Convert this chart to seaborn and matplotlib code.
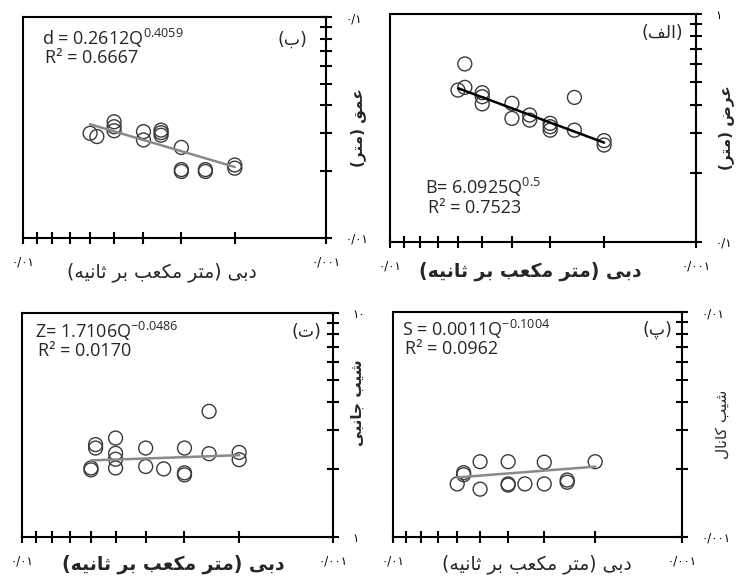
import seaborn as sns
import matplotlib.pyplot as plt
from matplotlib.ticker import NullFormatter

# ================================
# Datos
# ================================
# عرض (الف)
q_width = [0.0057, 0.006, 0.0057, 0.005, 0.005, 0.005, 0.004, 0.004, 0.0035,
           0.0035, 0.003, 0.003, 0.003, 0.0025, 0.0025, 0.002, 0.002]
width = [0.603, 0.463, 0.476, 0.451, 0.433, 0.403, 0.405, 0.348, 0.360,
         0.342, 0.331, 0.320, 0.309, 0.430, 0.309, 0.278, 0.266]

# عمق (ب)
q_depth = [0.006, 0.0057, 0.005, 0.005, 0.005, 0.004, 0.004, 0.0035, 0.0035,
           0.0035, 0.003, 0.003, 0.003, 0.0025, 0.0025, 0.002, 0.002]
depth = [0.0298, 0.0288, 0.0336, 0.0319, 0.0306, 0.0303, 0.0278, 0.0308, 0.0300,
         0.0292, 0.0257, 0.0204, 0.0200, 0.0204, 0.0200, 0.0214, 0.0207]

# شیب کانال (پ)
q_slope = [0.006, 0.0057, 0.0057, 0.005, 0.005, 0.004, 0.004, 0.004, 0.0035,
           0.003, 0.003, 0.0025, 0.0025, 0.002]
slope = [0.00172, 0.00193, 0.00189, 0.00216, 0.00163, 0.00216, 0.00172, 0.00170,
         0.00172, 0.00215, 0.00172, 0.00179, 0.00175, 0.00216]

# شیب جانبی (ت)
q_side = [0.006, 0.006, 0.0058, 0.0058, 0.005, 0.005, 0.005, 0.005, 0.004,
          0.004, 0.0035, 0.003, 0.003, 0.003, 0.0025, 0.0025, 0.002, 0.002]
side = [1.99, 2.03, 2.58, 2.49, 2.76, 2.36, 2.22, 2.03, 2.49,
        2.06, 2.01, 2.49, 1.93, 1.89, 3.63, 2.35, 2.38, 2.21]

# coeficientes de las ecuaciones  y = a * Q^b
fit_a = {"width": 6.0925, "depth": 0.2612, "slope": 0.0011, "side": 1.7106}
fit_b = {"width": 0.5, "depth": 0.4059, "slope": -0.1004, "side": -0.0486}
fit_q = [0.006, 0.002]


# ================================
# Texto persa (formas de presentacion + orden visual)
# ================================
FORMS = {
    "ا": ("\uFE8D", "\uFE8E", None, None),
    "ب": ("\uFE8F", "\uFE90", "\uFE91", "\uFE92"),
    "پ": ("\uFB56", "\uFB57", "\uFB58", "\uFB59"),
    "ت": ("\uFE95", "\uFE96", "\uFE97", "\uFE98"),
    "ث": ("\uFE99", "\uFE9A", "\uFE9B", "\uFE9C"),
    "ج": ("\uFE9D", "\uFE9E", "\uFE9F", "\uFEA0"),
    "د": ("\uFEA9", "\uFEAA", None, None),
    "ر": ("\uFEAD", "\uFEAE", None, None),
    "ش": ("\uFEB5", "\uFEB6", "\uFEB7", "\uFEB8"),
    "ض": ("\uFEBD", "\uFEBE", "\uFEBF", "\uFEC0"),
    "ع": ("\uFEC9", "\uFECA", "\uFECB", "\uFECC"),
    "ف": ("\uFED1", "\uFED2", "\uFED3", "\uFED4"),
    "ق": ("\uFED5", "\uFED6", "\uFED7", "\uFED8"),
    "ک": ("\uFB8E", "\uFB8F", "\uFB90", "\uFB91"),
    "ل": ("\uFEDD", "\uFEDE", "\uFEDF", "\uFEE0"),
    "م": ("\uFEE1", "\uFEE2", "\uFEE3", "\uFEE4"),
    "ن": ("\uFEE5", "\uFEE6", "\uFEE7", "\uFEE8"),
    "ه": ("\uFEE9", "\uFEEA", "\uFEEB", "\uFEEC"),
    "ی": ("\uFBFC", "\uFBFD", "\uFBFE", "\uFBFF"),
}


def fa(text):
    out = []
    for i, ch in enumerate(text):
        if ch not in FORMS:
            out.append(ch)
            continue
        prev = text[i - 1] if i > 0 else ""
        nxt = text[i + 1] if i + 1 < len(text) else ""
        jp = prev in FORMS and FORMS[prev][2] is not None
        jn = FORMS[ch][2] is not None and nxt in FORMS
        iso, fin, ini, med = FORMS[ch]
        if jp and jn:
            out.append(med)
        elif jp:
            out.append(fin)
        elif jn:
            out.append(ini)
        else:
            out.append(iso)
    vis = "".join(reversed(out))
    return vis.translate(str.maketrans("()", ")("))


# Estilo visual
sns.set_style("white")
plt.rcParams["font.family"] = ["DejaVu Sans"]
plt.rcParams["mathtext.fontset"] = "custom"
plt.rcParams["mathtext.rm"] = "Open Sans"
plt.rcParams["mathtext.it"] = "Open Sans"

fig = plt.figure(figsize=(7.36, 5.76), dpi=100)

xlab = fa("دبی (متر مکعب بر ثانیه)")
x_ticks = [0.01, 0.001]
x_ticklabels = ["۰/۰۱", "۰/۰۰۱"]

panels = [
    dict(pos=[0.031, 0.587, 0.412, 0.383], q=q_depth, y=depth, key="depth",
         ylim=(0.01, 0.1), yt=["۰/۰۱", "۰/۱"], ylab="عمق (متر)", tag="(ب)",
         eq="d = 0.2612Q$^{0.4059}$", r2="R² = 0.6667", eqxy=(0.063, 0.955),
         tagxy=(0.937, 0.90), xlc=(0.46, -0.11), ylc=(1.08, 0.5),
         lc="#8a8a8a", bold_x=False, bold_y=True),
    dict(pos=[0.530, 0.580, 0.416, 0.396], q=q_width, y=width, key="width",
         ylim=(0.1, 1), yt=["۰/۱", "۱"], ylab="عرض (متر)", tag="(الف)",
         eq="B= 6.0925Q$^{0.5}$", r2="R² = 0.7523", eqxy=(0.114, 0.29),
         tagxy=(0.957, 0.917), xlc=(0.457, -0.085), ylc=(1.07, 0.5),
         lc="#000000", bold_x=True, bold_y=True),
    dict(pos=[0.030, 0.068, 0.422, 0.389], q=q_side, y=side, key="side",
         ylim=(1, 10), yt=["۱", "۱۰"], ylab="شیب جانبی", tag="(ت)",
         eq="Z= 1.7106Q$^{-0.0486}$", r2="R² = 0.0170", eqxy=(0.042, 0.97),
         tagxy=(0.965, 0.915), xlc=(0.486, -0.08), ylc=(1.055, 0.6),
         lc="#8a8a8a", bold_x=True, bold_y=True),
    dict(pos=[0.534, 0.068, 0.393, 0.390], q=q_slope, y=slope, key="slope",
         ylim=(0.001, 0.01), yt=["۰/۰۰۱", "۰/۰۱"], ylab="شیب کانال", tag="(پ)",
         eq="S = 0.0011Q$^{-0.1004}$", r2="R² = 0.0962", eqxy=(0.031, 0.975),
         tagxy=(0.965, 0.92), xlc=(0.498, -0.08), ylc=(1.114, 0.5),
         lc="#8a8a8a", bold_x=False, bold_y=False),
]

for p in panels:
    ax = fig.add_axes(p["pos"])
    ax.set_xscale("log")
    ax.set_yscale("log")

    sns.scatterplot(x=p["q"], y=p["y"], ax=ax, s=100, marker="o",
                    facecolors="none", edgecolor="#3a3a3a", linewidth=1.0)

    line_y = [fit_a[p["key"]] * qq ** fit_b[p["key"]] for qq in fit_q]
    sns.lineplot(x=fit_q, y=line_y, ax=ax, color=p["lc"], linewidth=1.8)

    ax.set_xlim(0.01, 0.001)
    ax.set_ylim(*p["ylim"])

    ax.yaxis.tick_right()
    ax.yaxis.set_label_position("right")
    ax.set_xticks(x_ticks)
    ax.set_xticklabels(x_ticklabels)
    ax.set_yticks(list(p["ylim"]))
    ax.set_yticklabels(p["yt"])
    ax.xaxis.set_minor_formatter(NullFormatter())
    ax.yaxis.set_minor_formatter(NullFormatter())
    ax.tick_params(which="both", direction="inout", length=8, width=1.5,
                   colors="black", labelsize=8.5)
    ax.tick_params(axis="x", which="both", pad=9, top=False, bottom=True)
    ax.tick_params(axis="y", which="both", pad=10, left=False, right=True)

    for sp in ax.spines.values():
        sp.set_linewidth(1.5)
        sp.set_color("black")

    ax.set_xlabel(xlab, fontsize=13.5,
                  fontweight="bold" if p["bold_x"] else "normal")
    ax.xaxis.set_label_coords(*p["xlc"])
    ax.set_ylabel(fa(p["ylab"]), fontsize=11, rotation=90,
                  fontweight="bold" if p["bold_y"] else "normal")
    ax.yaxis.set_label_coords(*p["ylc"])

    ax.text(p["eqxy"][0], p["eqxy"][1], p["eq"], transform=ax.transAxes,
            fontsize=13, family="Open Sans", va="top", ha="left")
    ax.text(p["eqxy"][0] + 0.01, p["eqxy"][1] - 0.1, p["r2"],
            transform=ax.transAxes, fontsize=13, family="Open Sans",
            va="top", ha="left")
    ax.text(p["tagxy"][0], p["tagxy"][1], fa(p["tag"]), transform=ax.transAxes,
            fontsize=12.5, va="center", ha="right")

fig.savefig("out.png", dpi=100)
